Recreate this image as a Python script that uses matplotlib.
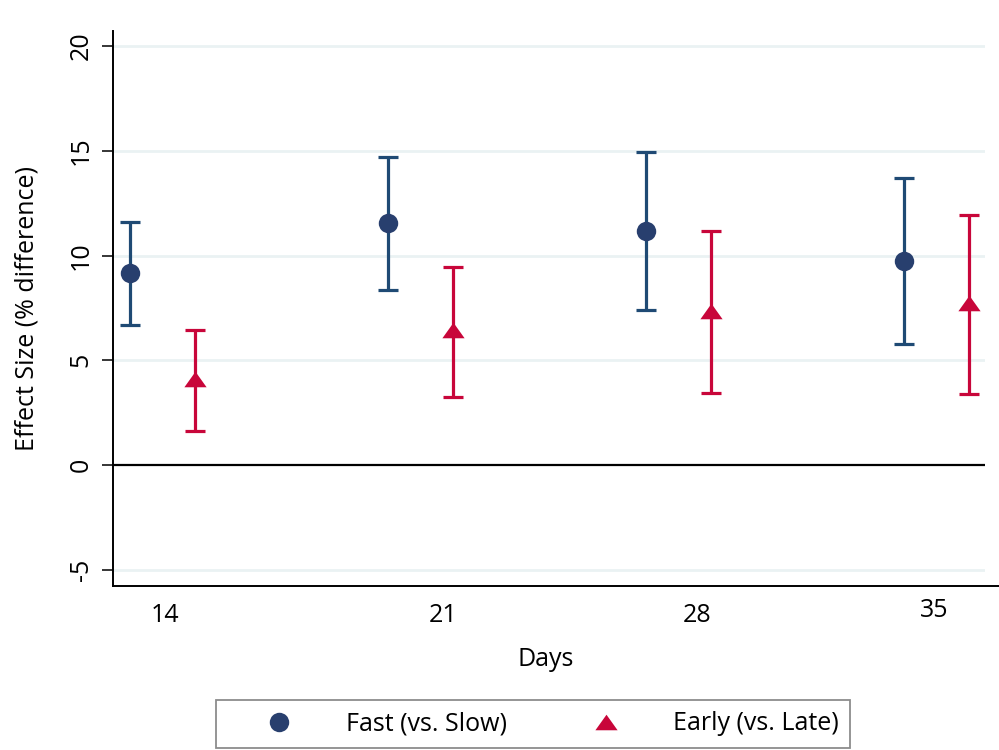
import matplotlib
matplotlib.use("Agg")
import matplotlib.pyplot as plt
import matplotlib.transforms as mtransforms
from matplotlib.lines import Line2D
import numpy as np

plt.rcParams['font.family'] = ['Open Sans', 'DejaVu Sans']

# ---- data ----
days = ["14", "21", "28", "35"]
fast_est = [9.15, 11.55, 11.17, 9.74]
fast_lo = [6.67, 8.35, 7.38, 5.79]
fast_hi = [11.61, 14.72, 14.93, 13.71]
early_est = [4.10, 6.42, 7.37, 7.73]
early_lo = [1.64, 3.26, 3.42, 3.40]
early_hi = [6.44, 9.47, 11.17, 11.92]
yticks = [-5, 0, 5, 10, 15, 20]
series_names = ["Fast (vs. Slow)", "Early (vs. Late)"]

# ---- styles ----
navy_mark = "#283f6e"
navy_bar = "#1f4a74"
red = "#c8063a"
grid_c = "#eaf2f3"
FS = 18

W, H = 999, 750
fig = plt.figure(figsize=(W / 100, H / 100), dpi=100)
ax = fig.add_axes([113 / W, 1 - 586 / H, (985 - 113) / W, (586 - 31) / H])

idx = np.arange(len(days))
off = 0.126
xf = idx - off
xe = idx + off

tri = [(0, 0.7), (-1, -0.7), (1, -0.7)]

for g in yticks:
    if g == 0:
        continue
    ax.axhline(g, color=grid_c, lw=2, zorder=0)
ax.axhline(0, color="black", lw=1.6, zorder=1)

fe = np.array(fast_est)
ee = np.array(early_est)
ax.errorbar(xf, fe, yerr=[fe - np.array(fast_lo), np.array(fast_hi) - fe],
            fmt="none", ecolor=navy_bar, elinewidth=2.3, capsize=7.5, capthick=2.3, zorder=2)
ax.errorbar(xe, ee, yerr=[ee - np.array(early_lo), np.array(early_hi) - ee],
            fmt="none", ecolor=red, elinewidth=2.3, capsize=7.5, capthick=2.3, zorder=2)
ax.plot(xf, fe, "o", color=navy_mark, ms=14, mew=0, zorder=3)
ax.plot(xe, ee, marker=tri, ls="none", color=red, ms=16, mew=0, zorder=3)

ax.set_xlim(-0.192, 3.188)
ax.set_ylim(-5.78, 20.72)

ax.set_yticks(yticks)
ax.set_yticklabels([str(t) for t in yticks], rotation=90, va="center", fontsize=FS)
ax.tick_params(axis="y", length=8, width=1.1, pad=6, color="black")

label_pos = [0.01, 1.087, 2.072, 2.99]
ax.set_xticks(label_pos)
ax.set_xticklabels(days, fontsize=FS)
ax.tick_params(axis="x", length=0, pad=12)
for i, lab in enumerate(ax.get_xticklabels()):
    if i == 3:
        lab.set_transform(lab.get_transform() +
                          mtransforms.ScaledTranslation(0, 5 / 100, fig.dpi_scale_trans))

for s in ["top", "right", "bottom"]:
    ax.spines[s].set_visible(False)
ax.spines["left"].set_linewidth(1.4)

# bottom axis line extends to the figure edge
fig.add_artist(Line2D([113 / W, 1.0], [1 - 586 / H, 1 - 586 / H], color="black", lw=1.4,
                      transform=fig.transFigure))

fig.text(546 / W, 1 - 660 / H, "Days", ha="center", va="center", fontsize=FS)
fig.text(27 / W, 1 - 309 / H, "Effect Size (% difference)", rotation=90,
         ha="center", va="center", fontsize=FS)

handles = [Line2D([], [], marker="o", color=navy_mark, ls="none", ms=14, mew=0),
           Line2D([], [], marker=tri, color=red, ls="none", ms=16, mew=0)]
leg = fig.legend(handles, series_names, loc="upper left",
                 bbox_to_anchor=(216 / W, 1 - 700 / H), ncol=2, fontsize=FS,
                 frameon=True, fancybox=False, framealpha=1, edgecolor="#8c8c8c",
                 handlelength=4.1, handletextpad=0.64, columnspacing=1.92,
                 borderpad=0.45, borderaxespad=0, numpoints=1)
leg.get_frame().set_linewidth(1.3)

fig.savefig("out.png", dpi=100)
